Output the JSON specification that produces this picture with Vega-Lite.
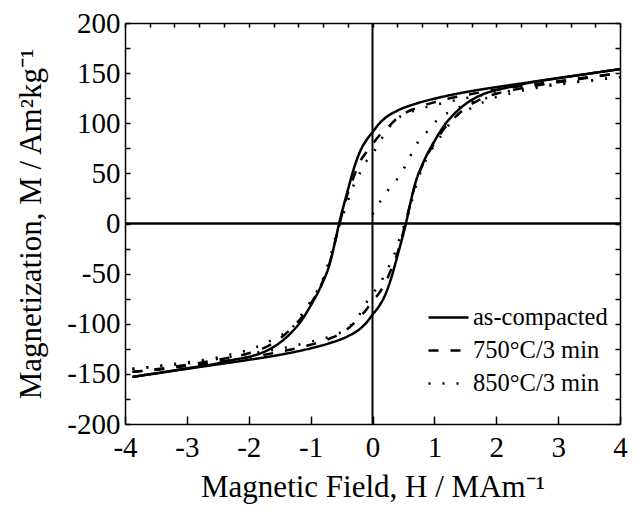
{
  "$schema": "https://vega.github.io/schema/vega-lite/v6.json",
  "autosize": {"type": "none"},
  "padding": {"left": 125, "top": 23, "right": 15, "bottom": 86},
  "width": 495,
  "height": 401,
  "background": "white",
  "config": {
    "view": {"stroke": null},
    "font": "Liberation Serif",
    "axis": {"grid": false, "labelFlush": false, "domainColor": "black", "tickColor": "black", "domainWidth": 1.5, "tickWidth": 1.5, "labelColor": "black", "titleColor": "black", "labelFont": "Liberation Serif", "titleFont": "Liberation Serif", "labelFontSize": 29, "titleFontSize": 31, "titleFontWeight": "normal"}
  },
  "datasets": {
    "zero": [{"v": 0}],
    "loops": [
      {"s": "as-compacted", "b": "d", "H": 4, "M": 154},
      {"s": "as-compacted", "b": "d", "H": 3.5, "M": 149.5},
      {"s": "as-compacted", "b": "d", "H": 3, "M": 145},
      {"s": "as-compacted", "b": "d", "H": 2.5, "M": 140.5},
      {"s": "as-compacted", "b": "d", "H": 2, "M": 136},
      {"s": "as-compacted", "b": "d", "H": 1.5, "M": 131},
      {"s": "as-compacted", "b": "d", "H": 1, "M": 124.5},
      {"s": "as-compacted", "b": "d", "H": 0.7, "M": 119.5},
      {"s": "as-compacted", "b": "d", "H": 0.4, "M": 112.5},
      {"s": "as-compacted", "b": "d", "H": 0.2, "M": 105},
      {"s": "as-compacted", "b": "d", "H": 0.1, "M": 99},
      {"s": "as-compacted", "b": "d", "H": 0, "M": 91},
      {"s": "as-compacted", "b": "d", "H": -0.1, "M": 83},
      {"s": "as-compacted", "b": "d", "H": -0.2, "M": 72},
      {"s": "as-compacted", "b": "d", "H": -0.3, "M": 55},
      {"s": "as-compacted", "b": "d", "H": -0.4, "M": 33},
      {"s": "as-compacted", "b": "d", "H": -0.47, "M": 17},
      {"s": "as-compacted", "b": "d", "H": -0.54, "M": 0},
      {"s": "as-compacted", "b": "d", "H": -0.6, "M": -17},
      {"s": "as-compacted", "b": "d", "H": -0.7, "M": -42},
      {"s": "as-compacted", "b": "d", "H": -0.8, "M": -58},
      {"s": "as-compacted", "b": "d", "H": -0.9, "M": -71},
      {"s": "as-compacted", "b": "d", "H": -1, "M": -82},
      {"s": "as-compacted", "b": "d", "H": -1.15, "M": -97},
      {"s": "as-compacted", "b": "d", "H": -1.3, "M": -108},
      {"s": "as-compacted", "b": "d", "H": -1.5, "M": -119},
      {"s": "as-compacted", "b": "d", "H": -1.75, "M": -128},
      {"s": "as-compacted", "b": "d", "H": -2, "M": -133},
      {"s": "as-compacted", "b": "d", "H": -2.25, "M": -136},
      {"s": "as-compacted", "b": "d", "H": -2.5, "M": -139.5},
      {"s": "as-compacted", "b": "d", "H": -3, "M": -144.5},
      {"s": "as-compacted", "b": "d", "H": -3.5, "M": -149.5},
      {"s": "as-compacted", "b": "d", "H": -3.88, "M": -153},
      {"s": "as-compacted", "b": "a", "H": -3.88, "M": -153},
      {"s": "as-compacted", "b": "a", "H": -3.5, "M": -149.5},
      {"s": "as-compacted", "b": "a", "H": -3, "M": -145},
      {"s": "as-compacted", "b": "a", "H": -2.5, "M": -140.5},
      {"s": "as-compacted", "b": "a", "H": -2, "M": -136},
      {"s": "as-compacted", "b": "a", "H": -1.5, "M": -131},
      {"s": "as-compacted", "b": "a", "H": -1, "M": -124.5},
      {"s": "as-compacted", "b": "a", "H": -0.7, "M": -119.5},
      {"s": "as-compacted", "b": "a", "H": -0.4, "M": -112.5},
      {"s": "as-compacted", "b": "a", "H": -0.2, "M": -105},
      {"s": "as-compacted", "b": "a", "H": -0.1, "M": -99},
      {"s": "as-compacted", "b": "a", "H": 0, "M": -91},
      {"s": "as-compacted", "b": "a", "H": 0.1, "M": -83},
      {"s": "as-compacted", "b": "a", "H": 0.2, "M": -72},
      {"s": "as-compacted", "b": "a", "H": 0.3, "M": -55},
      {"s": "as-compacted", "b": "a", "H": 0.4, "M": -33},
      {"s": "as-compacted", "b": "a", "H": 0.47, "M": -17},
      {"s": "as-compacted", "b": "a", "H": 0.54, "M": 0},
      {"s": "as-compacted", "b": "a", "H": 0.6, "M": 17},
      {"s": "as-compacted", "b": "a", "H": 0.7, "M": 42},
      {"s": "as-compacted", "b": "a", "H": 0.8, "M": 58},
      {"s": "as-compacted", "b": "a", "H": 0.9, "M": 71},
      {"s": "as-compacted", "b": "a", "H": 1, "M": 82},
      {"s": "as-compacted", "b": "a", "H": 1.15, "M": 97},
      {"s": "as-compacted", "b": "a", "H": 1.3, "M": 108},
      {"s": "as-compacted", "b": "a", "H": 1.5, "M": 119},
      {"s": "as-compacted", "b": "a", "H": 1.75, "M": 128},
      {"s": "as-compacted", "b": "a", "H": 2, "M": 133},
      {"s": "as-compacted", "b": "a", "H": 2.25, "M": 136.5},
      {"s": "as-compacted", "b": "a", "H": 2.5, "M": 140},
      {"s": "as-compacted", "b": "a", "H": 3, "M": 145},
      {"s": "as-compacted", "b": "a", "H": 3.5, "M": 149.5},
      {"s": "as-compacted", "b": "a", "H": 4, "M": 154},

      {"s": "750°C/3 min", "b": "d", "H": 4, "M": 150},
      {"s": "750°C/3 min", "b": "d", "H": 3.5, "M": 146},
      {"s": "750°C/3 min", "b": "d", "H": 3, "M": 142},
      {"s": "750°C/3 min", "b": "d", "H": 2.5, "M": 138},
      {"s": "750°C/3 min", "b": "d", "H": 2, "M": 133.5},
      {"s": "750°C/3 min", "b": "d", "H": 1.5, "M": 128},
      {"s": "750°C/3 min", "b": "d", "H": 1, "M": 121},
      {"s": "750°C/3 min", "b": "d", "H": 0.7, "M": 115},
      {"s": "750°C/3 min", "b": "d", "H": 0.44, "M": 107},
      {"s": "750°C/3 min", "b": "d", "H": 0.2, "M": 93},
      {"s": "750°C/3 min", "b": "d", "H": 0.1, "M": 87},
      {"s": "750°C/3 min", "b": "d", "H": 0, "M": 79},
      {"s": "750°C/3 min", "b": "d", "H": -0.1, "M": 71},
      {"s": "750°C/3 min", "b": "d", "H": -0.2, "M": 62},
      {"s": "750°C/3 min", "b": "d", "H": -0.3, "M": 47},
      {"s": "750°C/3 min", "b": "d", "H": -0.4, "M": 30},
      {"s": "750°C/3 min", "b": "d", "H": -0.47, "M": 15},
      {"s": "750°C/3 min", "b": "d", "H": -0.53, "M": 0},
      {"s": "750°C/3 min", "b": "d", "H": -0.6, "M": -17},
      {"s": "750°C/3 min", "b": "d", "H": -0.7, "M": -41},
      {"s": "750°C/3 min", "b": "d", "H": -0.8, "M": -57},
      {"s": "750°C/3 min", "b": "d", "H": -0.9, "M": -70},
      {"s": "750°C/3 min", "b": "d", "H": -1, "M": -80},
      {"s": "750°C/3 min", "b": "d", "H": -1.15, "M": -94},
      {"s": "750°C/3 min", "b": "d", "H": -1.3, "M": -104},
      {"s": "750°C/3 min", "b": "d", "H": -1.5, "M": -115},
      {"s": "750°C/3 min", "b": "d", "H": -1.75, "M": -124},
      {"s": "750°C/3 min", "b": "d", "H": -2, "M": -129.5},
      {"s": "750°C/3 min", "b": "d", "H": -2.25, "M": -133},
      {"s": "750°C/3 min", "b": "d", "H": -2.5, "M": -136},
      {"s": "750°C/3 min", "b": "d", "H": -3, "M": -141},
      {"s": "750°C/3 min", "b": "d", "H": -3.5, "M": -145.5},
      {"s": "750°C/3 min", "b": "d", "H": -3.88, "M": -148},
      {"s": "750°C/3 min", "b": "a", "H": -3.88, "M": -148},
      {"s": "750°C/3 min", "b": "a", "H": -3.5, "M": -146},
      {"s": "750°C/3 min", "b": "a", "H": -3, "M": -142},
      {"s": "750°C/3 min", "b": "a", "H": -2.5, "M": -138},
      {"s": "750°C/3 min", "b": "a", "H": -2, "M": -133.5},
      {"s": "750°C/3 min", "b": "a", "H": -1.5, "M": -128},
      {"s": "750°C/3 min", "b": "a", "H": -1, "M": -121},
      {"s": "750°C/3 min", "b": "a", "H": -0.7, "M": -115},
      {"s": "750°C/3 min", "b": "a", "H": -0.44, "M": -107},
      {"s": "750°C/3 min", "b": "a", "H": -0.2, "M": -93},
      {"s": "750°C/3 min", "b": "a", "H": -0.1, "M": -86},
      {"s": "750°C/3 min", "b": "a", "H": 0, "M": -77},
      {"s": "750°C/3 min", "b": "a", "H": 0.1, "M": -70},
      {"s": "750°C/3 min", "b": "a", "H": 0.2, "M": -60},
      {"s": "750°C/3 min", "b": "a", "H": 0.3, "M": -46},
      {"s": "750°C/3 min", "b": "a", "H": 0.4, "M": -30},
      {"s": "750°C/3 min", "b": "a", "H": 0.47, "M": -15},
      {"s": "750°C/3 min", "b": "a", "H": 0.53, "M": 0},
      {"s": "750°C/3 min", "b": "a", "H": 0.6, "M": 17},
      {"s": "750°C/3 min", "b": "a", "H": 0.7, "M": 41},
      {"s": "750°C/3 min", "b": "a", "H": 0.8, "M": 57},
      {"s": "750°C/3 min", "b": "a", "H": 0.9, "M": 70},
      {"s": "750°C/3 min", "b": "a", "H": 1, "M": 80},
      {"s": "750°C/3 min", "b": "a", "H": 1.15, "M": 94},
      {"s": "750°C/3 min", "b": "a", "H": 1.3, "M": 104},
      {"s": "750°C/3 min", "b": "a", "H": 1.5, "M": 115},
      {"s": "750°C/3 min", "b": "a", "H": 1.75, "M": 124},
      {"s": "750°C/3 min", "b": "a", "H": 2, "M": 129.5},
      {"s": "750°C/3 min", "b": "a", "H": 2.25, "M": 133},
      {"s": "750°C/3 min", "b": "a", "H": 2.5, "M": 136},
      {"s": "750°C/3 min", "b": "a", "H": 3, "M": 141},
      {"s": "750°C/3 min", "b": "a", "H": 3.5, "M": 145.5},
      {"s": "750°C/3 min", "b": "a", "H": 4, "M": 150},

      {"s": "850°C/3 min", "b": "d", "H": 4, "M": 146},
      {"s": "850°C/3 min", "b": "d", "H": 3.5, "M": 142.5},
      {"s": "850°C/3 min", "b": "d", "H": 3, "M": 139.5},
      {"s": "850°C/3 min", "b": "d", "H": 2.5, "M": 135},
      {"s": "850°C/3 min", "b": "d", "H": 2, "M": 130},
      {"s": "850°C/3 min", "b": "d", "H": 1.5, "M": 125},
      {"s": "850°C/3 min", "b": "d", "H": 1, "M": 118},
      {"s": "850°C/3 min", "b": "d", "H": 0.63, "M": 111.5},
      {"s": "850°C/3 min", "b": "d", "H": 0.39, "M": 104},
      {"s": "850°C/3 min", "b": "d", "H": 0.26, "M": 95},
      {"s": "850°C/3 min", "b": "d", "H": 0.15, "M": 85},
      {"s": "850°C/3 min", "b": "d", "H": 0.08, "M": 77},
      {"s": "850°C/3 min", "b": "d", "H": -0.04, "M": 67},
      {"s": "850°C/3 min", "b": "d", "H": -0.1, "M": 62},
      {"s": "850°C/3 min", "b": "d", "H": -0.23, "M": 47},
      {"s": "850°C/3 min", "b": "d", "H": -0.34, "M": 33},
      {"s": "850°C/3 min", "b": "d", "H": -0.42, "M": 18.5},
      {"s": "850°C/3 min", "b": "d", "H": -0.5, "M": 4},
      {"s": "850°C/3 min", "b": "d", "H": -0.58, "M": -10},
      {"s": "850°C/3 min", "b": "d", "H": -0.7, "M": -37},
      {"s": "850°C/3 min", "b": "d", "H": -0.8, "M": -55},
      {"s": "850°C/3 min", "b": "d", "H": -0.9, "M": -68},
      {"s": "850°C/3 min", "b": "d", "H": -1, "M": -78},
      {"s": "850°C/3 min", "b": "d", "H": -1.15, "M": -91},
      {"s": "850°C/3 min", "b": "d", "H": -1.33, "M": -106},
      {"s": "850°C/3 min", "b": "d", "H": -1.5, "M": -112},
      {"s": "850°C/3 min", "b": "d", "H": -1.79, "M": -121},
      {"s": "850°C/3 min", "b": "d", "H": -2, "M": -126},
      {"s": "850°C/3 min", "b": "d", "H": -2.25, "M": -130},
      {"s": "850°C/3 min", "b": "d", "H": -2.5, "M": -133.5},
      {"s": "850°C/3 min", "b": "d", "H": -3, "M": -138.5},
      {"s": "850°C/3 min", "b": "d", "H": -3.5, "M": -142.5},
      {"s": "850°C/3 min", "b": "d", "H": -3.88, "M": -145},
      {"s": "850°C/3 min", "b": "a", "H": -3.88, "M": -145},
      {"s": "850°C/3 min", "b": "a", "H": -3.5, "M": -142.5},
      {"s": "850°C/3 min", "b": "a", "H": -3, "M": -139.5},
      {"s": "850°C/3 min", "b": "a", "H": -2.5, "M": -135},
      {"s": "850°C/3 min", "b": "a", "H": -2, "M": -130},
      {"s": "850°C/3 min", "b": "a", "H": -1.5, "M": -125},
      {"s": "850°C/3 min", "b": "a", "H": -1, "M": -118},
      {"s": "850°C/3 min", "b": "a", "H": -0.63, "M": -111.5},
      {"s": "850°C/3 min", "b": "a", "H": -0.39, "M": -104},
      {"s": "850°C/3 min", "b": "a", "H": -0.26, "M": -95},
      {"s": "850°C/3 min", "b": "a", "H": -0.15, "M": -85},
      {"s": "850°C/3 min", "b": "a", "H": -0.08, "M": -77},
      {"s": "850°C/3 min", "b": "a", "H": 0.04, "M": -67},
      {"s": "850°C/3 min", "b": "a", "H": 0.12, "M": -60},
      {"s": "850°C/3 min", "b": "a", "H": 0.23, "M": -47},
      {"s": "850°C/3 min", "b": "a", "H": 0.34, "M": -33},
      {"s": "850°C/3 min", "b": "a", "H": 0.42, "M": -18.5},
      {"s": "850°C/3 min", "b": "a", "H": 0.5, "M": -4},
      {"s": "850°C/3 min", "b": "a", "H": 0.58, "M": 10},
      {"s": "850°C/3 min", "b": "a", "H": 0.7, "M": 37},
      {"s": "850°C/3 min", "b": "a", "H": 0.8, "M": 55},
      {"s": "850°C/3 min", "b": "a", "H": 0.9, "M": 68},
      {"s": "850°C/3 min", "b": "a", "H": 1, "M": 78},
      {"s": "850°C/3 min", "b": "a", "H": 1.15, "M": 91},
      {"s": "850°C/3 min", "b": "a", "H": 1.33, "M": 106},
      {"s": "850°C/3 min", "b": "a", "H": 1.5, "M": 112},
      {"s": "850°C/3 min", "b": "a", "H": 1.79, "M": 121},
      {"s": "850°C/3 min", "b": "a", "H": 2, "M": 126},
      {"s": "850°C/3 min", "b": "a", "H": 2.25, "M": 130},
      {"s": "850°C/3 min", "b": "a", "H": 2.5, "M": 133.5},
      {"s": "850°C/3 min", "b": "a", "H": 3, "M": 138.5},
      {"s": "850°C/3 min", "b": "a", "H": 3.5, "M": 142.5},
      {"s": "850°C/3 min", "b": "a", "H": 4, "M": 146},
      {"s": "850°C/3 min", "b": "v", "H": 0, "M": 9},
      {"s": "850°C/3 min", "b": "v", "H": 0.1, "M": 19.5},
      {"s": "850°C/3 min", "b": "v", "H": 0.25, "M": 33},
      {"s": "850°C/3 min", "b": "v", "H": 0.43, "M": 47},
      {"s": "850°C/3 min", "b": "v", "H": 0.57, "M": 62},
      {"s": "850°C/3 min", "b": "v", "H": 0.69, "M": 77},
      {"s": "850°C/3 min", "b": "v", "H": 0.86, "M": 90},
      {"s": "850°C/3 min", "b": "v", "H": 1.06, "M": 104},
      {"s": "850°C/3 min", "b": "v", "H": 1.3, "M": 113},
      {"s": "850°C/3 min", "b": "v", "H": 1.6, "M": 121},
      {"s": "850°C/3 min", "b": "v", "H": 2, "M": 127}
    ]
  },
  "layer": [
    {
      "data": {"name": "zero"},
      "mark": {"type": "rule", "color": "black", "strokeWidth": 2},
      "encoding": {
        "x": {"field": "v", "type": "quantitative", "scale": {"domain": [-4, 4], "nice": false, "zero": false},
          "axis": {"orient": "top", "values": [-4, -3.6, -3.2, -2.8, -2.4, -2, -1.6, -1.2, -0.8, -0.4, 0, 0.4, 0.8, 1.2, 1.6, 2, 2.4, 2.8, 3.2, 3.6, 4], "tickSize": -4, "labels": false, "title": null}}
      }
    },
    {
      "data": {"name": "zero"},
      "mark": {"type": "rule", "color": "black", "strokeWidth": 2.5},
      "encoding": {
        "y": {"field": "v", "type": "quantitative", "scale": {"domain": [-200, 200], "nice": false},
          "axis": {"orient": "right", "values": [-200, -175, -150, -125, -100, -75, -50, -25, 0, 25, 50, 75, 100, 125, 150, 175, 200], "tickSize": -5, "labels": false, "title": null}}
      }
    },
    {
      "data": {"name": "loops"},
      "mark": {"type": "line", "color": "black", "strokeWidth": 2.5, "interpolate": "monotone", "clip": true, "strokeCap": "butt"},
      "encoding": {
        "x": {"field": "H", "type": "quantitative", "scale": {"domain": [-4, 4], "nice": false, "zero": false},
          "axis": {"orient": "bottom", "values": [-4, -3, -2, -1, 0, 1, 2, 3, 4], "tickSize": -8, "labelExpr": "'' + datum.value", "labelPadding": 17, "title": "Magnetic Field, H / MAm⁻¹", "titlePadding": 10}},
        "y": {"field": "M", "type": "quantitative", "scale": {"domain": [-200, 200], "nice": false},
          "axis": {"orient": "left", "values": [-200, -175, -150, -125, -100, -75, -50, -25, 0, 25, 50, 75, 100, 125, 150, 175, 200], "tickSize": -5, "labelExpr": "datum.value % 50 === 0 ? '' + datum.value : ''", "labelPadding": 10, "title": "Magnetization, M / Am²kg⁻¹", "titlePadding": 19}},
        "detail": {"field": "b"},
        "strokeDash": {"field": "s", "type": "nominal",
          "scale": {"domain": ["as-compacted", "750°C/3 min", "850°C/3 min"], "range": [[1, 0], [10, 12], [2, 12]]},
          "legend": {"orient": "none", "legendX": 302, "legendY": 273, "title": null, "symbolType": "stroke", "symbolSize": 1600, "symbolStrokeWidth": 2.5, "symbolStrokeColor": "black", "labelFont": "Liberation Serif", "labelFontSize": 24.5, "labelColor": "black", "labelOffset": 3, "rowPadding": 0, "padding": 0}}
      }
    }
  ],
  "resolve": {"axis": {"x": "independent", "y": "independent"}}
}
